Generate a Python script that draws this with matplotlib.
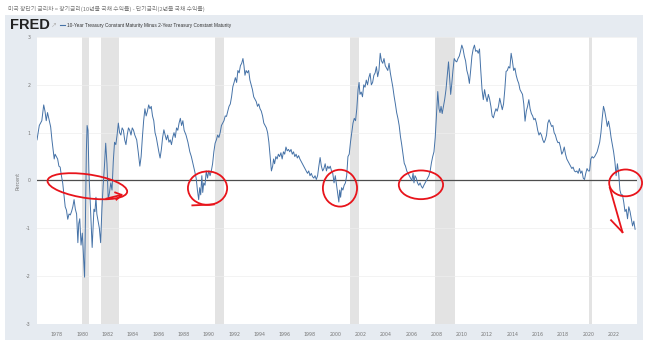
import matplotlib
matplotlib.use("Agg")
import matplotlib.pyplot as plt
from matplotlib.patches import Rectangle, Ellipse

W, H = 648, 342

# 10Y - 2Y Treasury spread (decimal year, percent)
years = [
    1976.42, 1976.6, 1976.8, 1976.95, 1977.05, 1977.15, 1977.25, 1977.35, 1977.5, 1977.6,
    1977.7, 1977.78, 1977.85, 1977.95, 1978.05, 1978.15, 1978.25, 1978.35, 1978.45, 1978.55,
    1978.65, 1978.75, 1978.85, 1978.95, 1979.05, 1979.15, 1979.25, 1979.35, 1979.45, 1979.55,
    1979.65, 1979.72, 1979.8, 1979.9, 1980.0, 1980.1, 1980.18, 1980.25, 1980.32, 1980.38,
    1980.45, 1980.52, 1980.6, 1980.7, 1980.78, 1980.85, 1980.92, 1981.0, 1981.08, 1981.15,
    1981.25, 1981.35, 1981.45, 1981.55, 1981.65, 1981.75, 1981.85, 1981.95, 1982.05, 1982.15,
    1982.25, 1982.35, 1982.45, 1982.55, 1982.65, 1982.75, 1982.85, 1982.95, 1983.05, 1983.15,
    1983.25, 1983.35, 1983.45, 1983.55, 1983.65, 1983.75, 1983.85, 1983.95, 1984.05, 1984.15,
    1984.3, 1984.42, 1984.55, 1984.65, 1984.75, 1984.85, 1984.95, 1985.05, 1985.15, 1985.25,
    1985.35, 1985.45, 1985.55, 1985.65, 1985.75, 1985.85, 1985.95, 1986.05, 1986.15, 1986.25,
    1986.35, 1986.45, 1986.55, 1986.65, 1986.75, 1986.85, 1986.95, 1987.05, 1987.15, 1987.25,
    1987.35, 1987.45, 1987.55, 1987.65, 1987.75, 1987.85, 1987.95, 1988.05, 1988.2, 1988.35,
    1988.5, 1988.62, 1988.75, 1988.88, 1989.0, 1989.1, 1989.2, 1989.28, 1989.36, 1989.45,
    1989.52, 1989.6, 1989.7, 1989.8, 1989.9, 1990.0, 1990.1, 1990.2, 1990.3, 1990.4,
    1990.5, 1990.6, 1990.7, 1990.8, 1990.9, 1991.0, 1991.1, 1991.2, 1991.3, 1991.4,
    1991.5, 1991.6, 1991.7, 1991.8, 1991.9, 1992.0, 1992.1, 1992.2, 1992.3, 1992.4,
    1992.5, 1992.6, 1992.7, 1992.78, 1992.86, 1992.95, 1993.05, 1993.15, 1993.25, 1993.35,
    1993.45, 1993.55, 1993.65, 1993.75, 1993.85, 1993.95, 1994.05, 1994.15, 1994.25, 1994.35,
    1994.45, 1994.55, 1994.65, 1994.75, 1994.85, 1994.95, 1995.05, 1995.12, 1995.2, 1995.3,
    1995.4, 1995.5, 1995.6, 1995.7, 1995.8, 1995.9, 1996.0, 1996.1, 1996.2, 1996.3,
    1996.4, 1996.5, 1996.6, 1996.7, 1996.8, 1996.9, 1997.0, 1997.1, 1997.2, 1997.3,
    1997.4, 1997.5, 1997.6, 1997.7, 1997.8, 1997.9, 1998.0, 1998.1, 1998.2, 1998.3,
    1998.4, 1998.5, 1998.6, 1998.7, 1998.8, 1998.9, 1999.0, 1999.1, 1999.2, 1999.3,
    1999.4, 1999.5, 1999.6, 1999.7, 1999.8, 1999.9, 2000.0, 2000.1, 2000.2, 2000.28,
    2000.35, 2000.42, 2000.5, 2000.6, 2000.7, 2000.8, 2000.9, 2001.0, 2001.1, 2001.2,
    2001.3, 2001.4, 2001.5, 2001.6, 2001.7, 2001.8, 2001.88, 2001.95, 2002.05, 2002.15,
    2002.25, 2002.35, 2002.45, 2002.55, 2002.65, 2002.75, 2002.85, 2002.95, 2003.05, 2003.15,
    2003.25, 2003.35, 2003.45, 2003.55, 2003.65, 2003.75, 2003.85, 2003.95, 2004.05, 2004.15,
    2004.25, 2004.35, 2004.45, 2004.55, 2004.65, 2004.75, 2004.85, 2004.95, 2005.05, 2005.15,
    2005.25, 2005.35, 2005.45, 2005.55, 2005.65, 2005.75, 2005.85, 2005.95, 2006.05, 2006.15,
    2006.22, 2006.3, 2006.4, 2006.5, 2006.6, 2006.7, 2006.8, 2006.9, 2007.0, 2007.1,
    2007.2, 2007.3, 2007.4, 2007.5, 2007.6, 2007.7, 2007.8, 2007.9, 2008.0, 2008.1,
    2008.2, 2008.28, 2008.36, 2008.45, 2008.55, 2008.65, 2008.75, 2008.85, 2008.95, 2009.05,
    2009.12, 2009.2, 2009.3, 2009.4, 2009.5, 2009.6, 2009.7, 2009.8, 2009.9, 2010.0,
    2010.1, 2010.2, 2010.3, 2010.4, 2010.5, 2010.6, 2010.7, 2010.8, 2010.9, 2011.0,
    2011.1, 2011.2, 2011.3, 2011.4, 2011.5, 2011.6, 2011.7, 2011.8, 2011.9, 2012.0,
    2012.1, 2012.2, 2012.3, 2012.4, 2012.5, 2012.6, 2012.7, 2012.8, 2012.9, 2013.0,
    2013.1, 2013.2, 2013.3, 2013.4, 2013.5, 2013.6, 2013.7, 2013.8, 2013.9, 2014.0,
    2014.1, 2014.2, 2014.3, 2014.4, 2014.5, 2014.6, 2014.7, 2014.8, 2014.9, 2015.0,
    2015.1, 2015.2, 2015.3, 2015.4, 2015.5, 2015.6, 2015.7, 2015.8, 2015.9, 2016.0,
    2016.1, 2016.2, 2016.3, 2016.4, 2016.5, 2016.6, 2016.7, 2016.8, 2016.9, 2017.0,
    2017.1, 2017.2, 2017.3, 2017.4, 2017.5, 2017.6, 2017.7, 2017.8, 2017.9, 2018.0,
    2018.1, 2018.2, 2018.3, 2018.4, 2018.5, 2018.6, 2018.7, 2018.8, 2018.9, 2019.0,
    2019.1, 2019.2, 2019.3, 2019.4, 2019.5, 2019.6, 2019.7, 2019.8, 2019.9, 2020.0,
    2020.1, 2020.2, 2020.3, 2020.4, 2020.5, 2020.6, 2020.7, 2020.8, 2020.9, 2021.0,
    2021.1, 2021.2, 2021.3, 2021.4, 2021.5, 2021.6, 2021.7, 2021.8, 2021.9, 2022.0,
    2022.1, 2022.2, 2022.3, 2022.4, 2022.5, 2022.6, 2022.7, 2022.8, 2022.9, 2023.0,
    2023.1, 2023.2, 2023.3, 2023.4, 2023.5, 2023.6, 2023.7,
]
spread = [
    0.85, 1.15, 1.25, 1.58, 1.45, 1.25, 1.42, 1.3, 1.12, 0.85,
    0.62, 0.45, 0.55, 0.5, 0.45, 0.3, 0.28, 0.1, -0.05, -0.3,
    -0.55, -0.62, -0.81, -0.7, -0.72, -0.65, -0.55, -0.4, -0.6, -0.7,
    -1.3, -0.9, -0.8, -1.35, -1.1, -1.6, -2.02, -0.8, 0.6, 1.15,
    1.05, 0.2, -0.3, -0.9, -1.4, -1.0, -0.6, -0.65, -0.35, -0.7,
    -0.85, -1.0, -1.3, -0.6, -0.1, 0.3, 0.78, 0.35, -0.4, -0.25,
    -0.05, -0.2, 0.4, 0.8, 0.75, 0.95, 1.2, 1.0, 0.95, 1.1,
    1.05, 0.85, 0.75, 0.95, 1.1, 1.05, 0.95, 1.1, 1.05, 0.95,
    0.85, 0.6, 0.3, 0.5, 0.9, 1.25, 1.5, 1.35, 1.45, 1.58,
    1.5, 1.55, 1.35, 1.25, 1.0, 0.9, 0.75, 0.6, 0.47, 0.65,
    0.9, 1.06, 0.95, 0.85, 0.95, 0.8, 0.85, 0.75, 0.9, 1.0,
    0.9, 1.1, 1.05, 1.2, 1.3, 1.15, 1.25, 1.05, 0.95, 0.8,
    0.6, 0.5, 0.35, 0.2, 0.05, -0.2, -0.4, -0.15, -0.3, 0.1,
    -0.25, -0.05, -0.1, 0.2, 0.05, 0.2, 0.1, 0.2, 0.35, 0.6,
    0.78, 0.85, 0.95, 0.9, 1.0, 1.15, 1.2, 1.25, 1.35, 1.34,
    1.45, 1.55, 1.6, 1.75, 1.96, 2.05, 2.15, 2.05, 2.3, 2.25,
    2.4, 2.45, 2.55, 2.4, 2.2, 2.3, 2.25, 2.3, 2.1, 2.0,
    1.9, 1.75, 1.7, 1.65, 1.55, 1.6, 1.5, 1.45, 1.35, 1.2,
    1.15, 1.1, 1.0, 0.8, 0.5, 0.2, 0.3, 0.45, 0.35, 0.5,
    0.45, 0.55, 0.5, 0.58, 0.45, 0.6, 0.55, 0.7, 0.62, 0.65,
    0.6, 0.65, 0.55, 0.6, 0.5, 0.55, 0.47, 0.52, 0.45, 0.4,
    0.35, 0.3, 0.25, 0.2, 0.15, 0.2, 0.1, 0.15, 0.08, 0.05,
    0.1, 0.02, 0.1, 0.3, 0.48, 0.3, 0.2, 0.25, 0.35, 0.2,
    0.3, 0.25, 0.3, 0.2, 0.15, -0.05, 0.1, -0.1, -0.3, -0.45,
    -0.2, -0.35, -0.15, -0.2, -0.1, -0.05, 0.1, 0.5, 0.55, 0.8,
    1.0, 1.2, 1.3, 1.25, 1.5, 1.9, 2.05, 1.8, 1.85, 1.75,
    2.0, 1.95, 2.1, 2.0, 2.15, 2.24, 2.0, 2.05, 2.2, 2.25,
    2.38, 2.17, 2.3, 2.66, 2.5, 2.45, 2.55, 2.4, 2.35, 2.3,
    2.45, 2.25, 2.1, 1.95, 1.76, 1.6, 1.42, 1.3, 1.15, 0.92,
    0.75, 0.55, 0.36, 0.3, 0.2, 0.15, 0.1, 0.05, 0.0, 0.15,
    -0.05, 0.1, 0.05, -0.05, -0.1, -0.05, -0.12, -0.16, -0.1, -0.05,
    0.0, 0.05, 0.1, 0.2, 0.37, 0.5, 0.6, 0.9, 1.4, 1.86,
    1.5, 1.42, 1.55, 1.4, 1.55, 1.7, 1.9, 2.2, 2.48, 2.1,
    1.8, 2.0, 2.3, 2.55, 2.5, 2.48, 2.55, 2.6, 2.7, 2.83,
    2.75, 2.6, 2.5, 2.3, 2.2, 2.03, 2.3, 2.6, 2.75, 2.83,
    2.7, 2.72, 2.66, 2.75, 2.3, 1.9, 1.69, 1.9, 1.75, 1.65,
    1.8, 1.7, 1.55, 1.35, 1.31, 1.42, 1.5, 1.45, 1.55, 1.72,
    1.6, 1.48, 1.6, 1.9, 2.28, 2.3, 2.38, 2.35, 2.66, 2.5,
    2.3, 2.35, 2.2, 2.1, 2.03, 1.9, 1.85, 1.8, 1.6, 1.24,
    1.45, 1.55, 1.69, 1.5, 1.4, 1.35, 1.27, 1.3, 1.2, 1.05,
    0.95, 1.0, 0.95, 0.85, 0.79, 0.85, 0.95, 1.2, 1.27, 1.2,
    1.13, 1.15, 1.0, 0.95, 0.85, 0.79, 0.8, 0.7, 0.55, 0.6,
    0.7, 0.55, 0.45, 0.4, 0.35, 0.3, 0.25, 0.28, 0.2, 0.18,
    0.2, 0.15, 0.25, 0.15, 0.2, 0.05, 0.02, 0.15, 0.25, 0.2,
    0.2, 0.45, 0.5, 0.47, 0.5, 0.55, 0.6, 0.7, 0.8, 1.0,
    1.3, 1.55, 1.45, 1.3, 1.13, 1.24, 1.1, 0.9, 0.75, 0.6,
    0.4, 0.1, 0.35, 0.15, -0.2, -0.3, -0.3, -0.45, -0.65, -0.6,
    -0.8, -0.55, -0.65, -0.8, -0.95, -0.85, -1.02,
]

# NBER recessions (start, end)
recessions = [(1980.0, 1980.5), (1981.5, 1982.87), (1990.5, 1991.2),
              (2001.17, 2001.87), (2007.92, 2009.5), (2020.08, 2020.3)]

tick_years = list(range(1978, 2023, 2))
y_ticks = [-3, -2, -1, 0, 1, 2, 3]

# hand-drawn markers around the inversions: (center year, center value, width, height, angle)
circles = [(1980.4, -0.12, 6.3, 0.5, -2), (1989.9, -0.16, 3.1, 0.7, 0),
           (2000.37, -0.16, 2.7, 0.77, 0), (2006.77, -0.09, 3.5, 0.6, 0),
           (2022.95, -0.05, 2.6, 0.56, 0)]

title = "미국 장단기 금리차 = 장기금리(10년물 국채 수익률) - 단기금리(2년물 국채 수익률)"
series_name = "10-Year Treasury Constant Maturity Minus 2-Year Treasury Constant Maturity"

fig = plt.figure(figsize=(W / 100, H / 100), dpi=100, facecolor="white")


def fx(px):
    return px / W


def fy(py):
    return 1 - py / H


# FRED panel background, kept underneath the axes
fig.patches.append(Rectangle((fx(5), fy(340)), fx(643) - fx(5), fy(15) - fy(340),
                             transform=fig.transFigure, facecolor="#e6ebf1",
                             edgecolor="none", zorder=-5))

fig.text(fx(8), fy(9), title, fontsize=4.2, color="#777777", va="center",
         family=["Noto Sans CJK KR", "DejaVu Sans"])
fig.text(fx(10), fy(25), "FRED", fontsize=10.5, fontweight="bold", color="#222222",
         va="center", family="Liberation Sans")
fig.text(fx(51), fy(25), "\u2197", fontsize=5, color="#b5b5b5", va="center")
fig.lines.append(plt.Line2D([fx(60), fx(64.5)], [fy(25), fy(25)],
                            transform=fig.transFigure, color="#4572a7", lw=0.8))
fig.text(fx(67), fy(25), series_name, fontsize=3.4, color="#333333", va="center",
         family="Liberation Sans")

ax = fig.add_axes([fx(36.5), fy(324), fx(637) - fx(36.5), fy(37) - fy(324)])
ax.set_facecolor("white")

for a, b in recessions:
    ax.axvspan(a, b, color="#e3e3e3", lw=0, zorder=1)

for v in y_ticks:
    if v != 0:
        ax.axhline(v, color="#eeeeee", lw=0.5, zorder=1)
ax.axhline(0, color="#4d4d4d", lw=0.9, zorder=2)

ax.plot(years, spread, color="#4572a7", lw=0.7, zorder=3)

ax.set_xlim(1976.38, 2023.85)
ax.set_ylim(-3, 3)
ax.set_yticks(y_ticks)
ax.set_yticklabels([str(v) for v in y_ticks])
ax.set_xticks(tick_years)
ax.set_xticklabels([str(y) for y in tick_years])
ax.tick_params(axis="both", length=0, labelsize=3.4, labelcolor="#777777")
ax.tick_params(axis="y", pad=4)
ax.tick_params(axis="x", pad=6)
for s in ax.spines.values():
    s.set_visible(False)
ax.set_ylabel("Percent", fontsize=3.4, color="#777777", labelpad=4)

# red pen marks
red = "#e8141b"
pen = 1.3
for cx, cy, w, h, ang in circles:
    ax.add_patch(Ellipse((cx, cy), w, h, angle=ang, fill=False, edgecolor=red,
                         lw=pen, zorder=5, clip_on=False))
ax.plot([1981.9, 1983.1], [-0.38, -0.3], color=red, lw=pen, zorder=5, clip_on=False)
ax.plot([1982.6, 1983.1, 1982.7], [-0.25, -0.3, -0.4], color=red, lw=pen, zorder=5)
ax.plot([1988.7, 1990.4], [-0.52, -0.5], color=red, lw=pen, zorder=5)
ax.plot([2021.7, 2022.7], [-0.15, -1.08], color=red, lw=pen, zorder=5)
ax.plot([2021.8, 2022.7], [-0.83, -1.08], color=red, lw=pen, zorder=5)

fig.savefig("out.png", dpi=100, facecolor="white")
